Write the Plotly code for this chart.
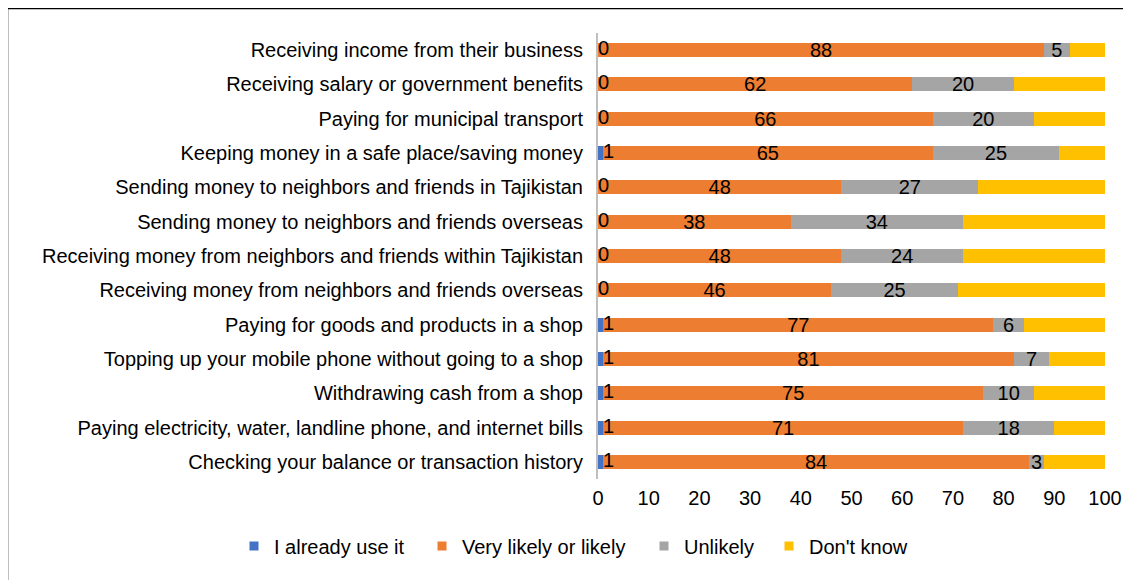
import plotly.graph_objects as go

categories = [
    "Receiving income from their business",
    "Receiving salary or government benefits",
    "Paying for municipal transport",
    "Keeping money in a safe place/saving money",
    "Sending money to neighbors and friends in Tajikistan",
    "Sending money to neighbors and friends overseas",
    "Receiving money from neighbors and friends within Tajikistan",
    "Receiving money from neighbors and friends overseas",
    "Paying for goods and products in a shop",
    "Topping up your mobile phone without going to a shop",
    "Withdrawing cash from a shop",
    "Paying electricity, water, landline phone, and internet bills",
    "Checking your balance or transaction history",
]
already_use = [0, 0, 0, 1, 0, 0, 0, 0, 1, 1, 1, 1, 1]
likely = [88, 62, 66, 65, 48, 38, 48, 46, 77, 81, 75, 71, 84]
unlikely = [5, 20, 20, 25, 27, 34, 24, 25, 6, 7, 10, 18, 3]
dont_know = [7, 18, 14, 9, 25, 28, 28, 29, 16, 11, 14, 10, 12]
x_ticks = [0, 10, 20, 30, 40, 50, 60, 70, 80, 90, 100]

series_names = ["I already use it", "Very likely or likely", "Unlikely", "Don't know"]
colors = ["#4472C4", "#ED7D31", "#A5A5A5", "#FFC000"]

FONT = "Liberation Sans, Arial, sans-serif"
FS = 20
OFF = 8  # page body margin
W, H = 1131 - OFF, 580 - OFF
L, R, T, B = 598 - OFF, 26, 33 - OFF, 101

fig = go.Figure()
data = [already_use, likely, unlikely, dont_know]
for i, (name, vals, col) in enumerate(zip(series_names, data, colors)):
    show_text = i in (1, 2)
    fig.add_trace(go.Bar(
        y=categories, x=vals, orientation="h", name=name,
        marker=dict(color=col, line=dict(width=0)),
        text=[str(v) for v in vals] if show_text else None,
        textposition="inside" if show_text else "none",
        insidetextanchor="middle", textangle=0,
        textfont=dict(color="black", size=FS, family=FONT),
        showlegend=False, hoverinfo="x+name",
    ))

# labels for the "I already use it" series
fig.add_trace(go.Scatter(
    y=categories, x=already_use, mode="text",
    text=[str(v) for v in already_use], textposition="middle right",
    textfont=dict(color="black", size=FS, family=FONT),
    showlegend=False, hoverinfo="skip", cliponaxis=False,
))

pw = W - L - R
ph = H - T - B
fx = lambda px: (px - OFF - L) / pw   # px in screenshot coordinates
fy = lambda py: 1 - (py - OFF - T) / ph

# legend entries, one small legend per entry
legend_ids = ["legend", "legend2", "legend3", "legend4"]
legend_text_x = [271, 459, 681, 806]
legends = {}
for name, col, lid, tx in zip(series_names, colors, legend_ids, legend_text_x):
    fig.add_trace(go.Scatter(
        x=[None], y=[None], mode="markers", name=name, legend=lid,
        marker=dict(symbol="square", size=9, color=col),
    ))
    legends[lid] = dict(orientation="h", x=fx(tx - 37), xanchor="left",
                        y=fy(546), yanchor="middle",
                        font=dict(size=FS, family=FONT, color="black"),
                        itemclick=False, bgcolor="rgba(0,0,0,0)")

fig.update_layout(
    width=W, height=H,
    margin=dict(l=L, r=R, t=T, b=B, autoexpand=False),
    barmode="stack", bargap=0.59,
    plot_bgcolor="white", paper_bgcolor="white",
    font=dict(family=FONT, size=FS, color="black"),
    uniformtext=dict(minsize=FS, mode="show"),
    xaxis=dict(range=[0, 100], tickvals=x_ticks, showgrid=False, zeroline=False,
               showline=False, ticks="", ticklabelstandoff=5,
               tickfont=dict(size=FS, family=FONT, color="black")),
    yaxis=dict(type="category", categoryorder="array", categoryarray=categories,
               range=[len(categories) - 0.5, -0.5], autorange=False,
               showgrid=False, zeroline=False,
               showline=True, linecolor="#BFBFBF", linewidth=2, ticks="",
               ticklabelstandoff=9,
               tickfont=dict(size=FS, family=FONT, color="black")),
    shapes=[dict(type="rect", xref="paper", yref="paper",
                 x0=fx(7.5), x1=fx(1131 + 20), y0=fy(580 + 20), y1=fy(8.5),
                 line=dict(color="black", width=1.5), fillcolor="rgba(0,0,0,0)",
                 layer="above")],
    **legends,
)

fig.write_html("out.html")
